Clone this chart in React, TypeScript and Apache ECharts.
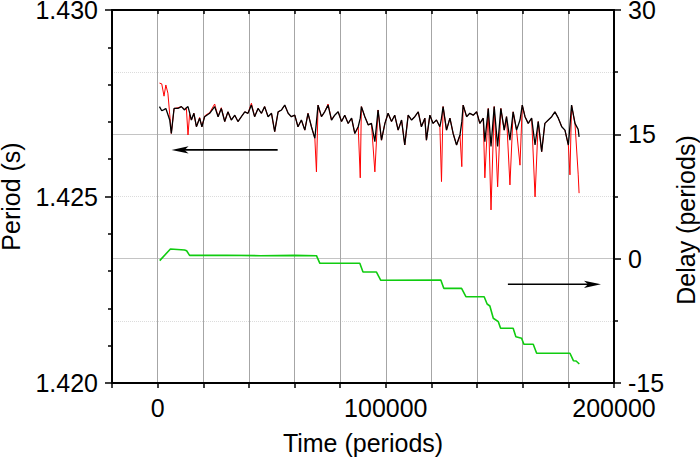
import React, { useEffect, useRef } from 'react';
import * as echarts from 'echarts';

// Smoothed period (black), [time (periods), period (s)]
const periodSmooth: [number, number][] = [
  [800, 1.42741], [1800, 1.4273], [2800, 1.42733], [3600, 1.42736], [4500, 1.4272], [5300, 1.42705],
  [6000, 1.42669], [7200, 1.42736], [8900, 1.42736], [10400, 1.42741], [11800, 1.42732], [12600, 1.42738],
  [13300, 1.42741], [14000, 1.42725], [14800, 1.42705], [15900, 1.42723], [17000, 1.42687], [18400, 1.4271],
  [19400, 1.42687], [20600, 1.42714], [22800, 1.42723], [25000, 1.42741], [26500, 1.42714], [27900, 1.42736],
  [29400, 1.42701], [30800, 1.42727], [32300, 1.42705], [33800, 1.42718], [35200, 1.42701], [36700, 1.42714],
  [38200, 1.42727], [39600, 1.42723], [41100, 1.42745], [42500, 1.42714], [44000, 1.42736], [45500, 1.42723],
  [46900, 1.42741], [48400, 1.42714], [49900, 1.42723], [51300, 1.42674], [52800, 1.42727], [54300, 1.42732],
  [55700, 1.42745], [57200, 1.42723], [58600, 1.42714], [60100, 1.42718], [61500, 1.42687], [63000, 1.42705],
  [64500, 1.42678], [65900, 1.42723], [67400, 1.42687], [68900, 1.42656], [69600, 1.427], [70300, 1.42745],
  [71800, 1.42714], [73200, 1.42727], [74700, 1.42745], [76200, 1.42705], [77600, 1.42718], [79100, 1.42727],
  [80600, 1.42701], [82000, 1.42718], [83500, 1.42696], [85000, 1.4271], [86400, 1.42669], [87900, 1.42687],
  [88800, 1.4271], [89300, 1.42741], [90800, 1.42714], [92300, 1.42692], [93700, 1.42696], [95200, 1.42647],
  [96600, 1.42732], [98100, 1.42651], [99600, 1.42696], [101000, 1.42723], [102500, 1.42701], [103900, 1.42718],
  [105400, 1.42678], [106900, 1.42705], [108300, 1.42638], [109800, 1.42718], [111300, 1.42705], [112700, 1.42714],
  [114200, 1.42727], [115600, 1.42687], [117100, 1.4271], [117800, 1.42651], [119300, 1.42718], [120700, 1.42696],
  [122200, 1.42705], [123700, 1.42687], [124400, 1.4271], [125100, 1.42741], [126600, 1.42678], [128100, 1.4271],
  [129500, 1.42669], [131000, 1.42638], [132500, 1.42665], [133300, 1.427], [133900, 1.42745], [135400, 1.42714],
  [136800, 1.42723], [138300, 1.42718], [139800, 1.42727], [141200, 1.42696], [142700, 1.4271], [143400, 1.42647],
  [144900, 1.42736], [146100, 1.42634], [147500, 1.42741], [149000, 1.42634], [150400, 1.42736], [151900, 1.42678],
  [152900, 1.42714], [154400, 1.42651], [155800, 1.42727], [157300, 1.42678], [158800, 1.42705], [159800, 1.42745],
  [161000, 1.42714], [162400, 1.42696], [163900, 1.4271], [165400, 1.42638], [166800, 1.42701], [168300, 1.4262],
  [169700, 1.42696], [171200, 1.42705], [172700, 1.42714], [174100, 1.42727], [175600, 1.4271], [177100, 1.42687],
  [178500, 1.42678], [180000, 1.42638], [180700, 1.4269], [181400, 1.42745], [182900, 1.42696], [184300, 1.4268],
  [184700, 1.4266],
];

// Raw period (red), [time (periods), period (s)]
const periodRaw: [number, number][] = [
  [800, 1.42804], [1800, 1.42802], [2800, 1.42769], [3600, 1.42799], [4500, 1.42777], [5300, 1.4272],
  [6000, 1.42669], [7200, 1.42736], [8900, 1.42738], [10400, 1.42741], [11800, 1.42734], [12600, 1.42736],
  [13300, 1.42665], [14000, 1.4272], [14800, 1.42705], [15900, 1.42723], [17000, 1.42687], [18400, 1.42712],
  [19400, 1.42687], [20600, 1.42716], [22800, 1.42725], [25000, 1.42748], [26500, 1.42714], [27900, 1.42738],
  [29400, 1.42701], [30800, 1.42727], [32300, 1.42705], [33800, 1.42718], [35200, 1.42701], [36700, 1.42714],
  [38200, 1.42727], [39600, 1.42723], [41100, 1.4275], [42500, 1.42714], [44000, 1.42736], [45500, 1.42723],
  [46900, 1.42741], [48400, 1.42714], [49900, 1.42723], [51300, 1.42674], [52800, 1.42727], [54300, 1.42732],
  [55700, 1.42745], [57200, 1.42723], [58600, 1.42714], [60100, 1.42718], [61500, 1.42687], [63000, 1.42705],
  [64500, 1.42678], [65900, 1.42723], [67400, 1.42687], [68900, 1.42656], [69600, 1.42566], [70300, 1.42745],
  [71800, 1.42714], [73200, 1.42727], [74700, 1.42748], [76200, 1.42705], [77600, 1.42718], [79100, 1.42727],
  [80600, 1.42701], [82000, 1.42718], [83500, 1.42696], [85000, 1.4271], [86400, 1.42669], [87900, 1.42687],
  [88800, 1.4255], [89300, 1.42741], [90800, 1.42714], [92300, 1.42692], [93700, 1.42696], [95200, 1.42566],
  [96600, 1.42732], [98100, 1.42651], [99600, 1.42696], [101000, 1.42723], [102500, 1.42701], [103900, 1.42718],
  [105400, 1.42678], [106900, 1.42705], [108300, 1.42638], [109800, 1.42718], [111300, 1.42705], [112700, 1.42714],
  [114200, 1.42727], [115600, 1.42687], [117100, 1.4271], [117800, 1.42651], [119300, 1.42718], [120700, 1.42696],
  [122200, 1.42705], [123700, 1.42687], [124400, 1.4254], [125100, 1.42741], [126600, 1.42678], [128100, 1.4271],
  [129500, 1.42669], [131000, 1.42638], [132500, 1.42665], [133300, 1.4258], [133900, 1.42745], [135400, 1.42714],
  [136800, 1.42723], [138300, 1.42718], [139800, 1.42727], [141200, 1.42696], [142700, 1.4271], [143400, 1.4255],
  [144900, 1.42736], [146100, 1.42464], [147500, 1.42741], [149000, 1.42526], [150400, 1.42736], [151900, 1.42678],
  [152900, 1.42714], [154400, 1.42531], [155800, 1.42727], [157300, 1.42678], [158800, 1.42584], [159800, 1.42745],
  [161000, 1.42714], [162400, 1.42696], [163900, 1.4271], [165400, 1.42499], [166800, 1.42701], [168300, 1.4262],
  [169700, 1.42696], [171200, 1.42705], [172700, 1.42714], [174100, 1.42727], [175600, 1.4271], [177100, 1.42687],
  [178500, 1.42678], [180000, 1.42638], [180700, 1.42558], [181400, 1.42745], [182900, 1.42696], [184300, 1.4256],
  [184700, 1.42509],
];

// Delay (green), [time (periods), delay (periods)]
const delay: [number, number][] = [
  [900, -0.24], [5600, 1.17], [11800, 1.05], [12700, 0.95], [14000, 0.4], [30000, 0.42], [45000, 0.36],
  [60000, 0.4], [69600, 0.36], [71100, -0.56], [88600, -0.56], [90000, -1.61], [95900, -1.61], [97800, -2.61],
  [124100, -2.57], [125400, -3.58], [133200, -3.58], [135100, -4.59], [143100, -4.59], [144400, -5.47],
  [145600, -5.71], [147100, -7.19], [149300, -7.6], [150300, -8.4], [155800, -8.4], [157000, -9.41],
  [159500, -9.61], [160500, -10.33], [164600, -10.33], [166100, -11.41], [180700, -11.41], [182200, -12.31],
  [183400, -12.35], [184800, -12.71],
];

// Annotation arrows (data coordinates): [tail, tip]
const arrowPeriod: [number, number][] = [[52600, 1.42625], [6100, 1.42625]];
const arrowDelay: [number, number][] = [[153500, -3.09], [194300, -3.09]];

const FONT = '"Liberation Sans", Arial, Helvetica, sans-serif';
const FS = 25;

export default function App() {
  const ref = useRef<HTMLDivElement>(null);
  useEffect(() => {
    const chart = echarts.init(ref.current!, null, { renderer: 'svg' });
    const axisLine = { show: true, onZero: false, lineStyle: { color: '#000', width: 2 } };
    chart.setOption({
      animation: false,
      backgroundColor: '#fff',
      textStyle: { fontFamily: FONT },
      grid: {
        left: 112,
        right: 86,
        top: 10,
        bottom: 80,
        containLabel: false,
        outerBoundsMode: 'none',
      },
      xAxis: [
        {
          type: 'value',
          min: -20000,
          max: 200000,
          interval: 20000,
          axisLine,
          axisTick: { show: true, inside: false, length: 5, lineStyle: { color: '#000', width: 1.5 } },
          axisLabel: {
            fontSize: FS,
            color: '#000',
            fontFamily: FONT,
            margin: 12,
            formatter: (v: number) => (v >= 0 && v % 100000 === 0 ? String(v) : ''),
          },
          splitLine: { show: true, lineStyle: { color: '#a6a6a6', width: 1 } },
          name: 'Time (periods)',
          nameLocation: 'middle',
          nameGap: 47,
          nameTextStyle: { fontSize: FS, color: '#000', fontFamily: FONT },
        },
        {
          type: 'value',
          position: 'top',
          min: -20000,
          max: 200000,
          interval: 20000,
          axisLine,
          axisTick: { show: true, inside: true, length: 4, lineStyle: { color: '#000', width: 1.5 } },
          axisLabel: { show: false },
          splitLine: { show: false },
        },
      ],
      yAxis: [
        {
          type: 'value',
          position: 'left',
          min: 1.42,
          max: 1.43,
          interval: 0.005,
          axisLine,
          axisTick: { show: true, length: 7, lineStyle: { color: '#000', width: 1.5 } },
          minorTick: { show: true, splitNumber: 5, length: 4, lineStyle: { color: '#000', width: 1.5 } },
          axisLabel: {
            fontSize: FS,
            color: '#000',
            fontFamily: FONT,
            margin: 14,
            formatter: (v: number) => v.toFixed(3),
          },
          splitLine: { show: false },
          name: 'Period (s)',
          nameLocation: 'middle',
          nameGap: 89,
          nameTextStyle: { fontSize: FS, color: '#000', fontFamily: FONT },
        },
        {
          type: 'value',
          position: 'right',
          min: -15,
          max: 30,
          interval: 15,
          axisLine,
          axisTick: { show: true, length: 7, lineStyle: { color: '#000', width: 1.5 } },
          minorTick: { show: true, splitNumber: 2, length: 4, lineStyle: { color: '#000', width: 1.5 } },
          axisLabel: { fontSize: FS, color: '#000', fontFamily: FONT, margin: 14 },
          splitLine: { show: true, lineStyle: { color: '#c4c4c4', width: 1 } },
          minorSplitLine: { show: true, lineStyle: { color: '#dcdcdc', width: 1, type: 'dotted' } },
        },
      ],
      series: [
        {
          name: 'Raw period',
          type: 'line',
          xAxisIndex: 0,
          yAxisIndex: 0,
          data: periodRaw,
          showSymbol: false,
          lineStyle: { color: '#ff0000', width: 1 },
          z: 2,
        },
        {
          name: 'Smoothed period',
          type: 'line',
          xAxisIndex: 0,
          yAxisIndex: 0,
          data: periodSmooth,
          showSymbol: false,
          lineStyle: { color: '#000', width: 1.3 },
          z: 3,
        },
        {
          name: 'Delay',
          type: 'line',
          xAxisIndex: 0,
          yAxisIndex: 1,
          data: delay,
          showSymbol: false,
          lineStyle: { color: '#10cc10', width: 1.6 },
          z: 3,
        },
      ],
    });

    const toPx = (pt: [number, number], yAxisIndex: number) =>
      chart.convertToPixel({ xAxisIndex: 0, yAxisIndex }, pt) as number[];
    const arrow = (id: string, tail: number[], tip: number[]) => {
      const dir = Math.sign(tip[0] - tail[0]);
      const y = tip[1];
      return [
        {
          type: 'line',
          id: id + '-shaft',
          shape: { x1: tail[0], y1: y, x2: tip[0] - dir * 12, y2: y },
          style: { stroke: '#000', lineWidth: 1.6 },
          z: 10,
        },
        {
          type: 'polygon',
          id: id + '-head',
          shape: {
            points: [
              [tip[0], y],
              [tip[0] - dir * 17, y - 3.6],
              [tip[0] - dir * 13, y],
              [tip[0] - dir * 17, y + 3.6],
            ],
          },
          style: { fill: '#000' },
          z: 10,
        },
      ];
    };
    const a1t = toPx(arrowPeriod[0], 0);
    const a1h = toPx(arrowPeriod[1], 0);
    const a2t = toPx(arrowDelay[0], 1);
    const a2h = toPx(arrowDelay[1], 1);
    chart.setOption({
      graphic: [
        ...arrow('left-arrow', a1t, a1h),
        ...arrow('right-arrow', a2t, a2h),
        {
          type: 'text',
          id: 'right-name',
          x: 686,
          y: 220,
          rotation: Math.PI / 2,
          style: {
            text: 'Delay (periods)',
            fill: '#000',
            font: `${FS}px ${FONT}`,
            align: 'center',
            verticalAlign: 'middle',
          },
          z: 10,
        },
      ],
    });
    return () => chart.dispose();
  }, []);
  return (
    <div
      ref={ref}
      style={{ position: 'fixed', left: 0, top: 0, width: 700, height: 463, background: '#fff' }}
    />
  );
}
